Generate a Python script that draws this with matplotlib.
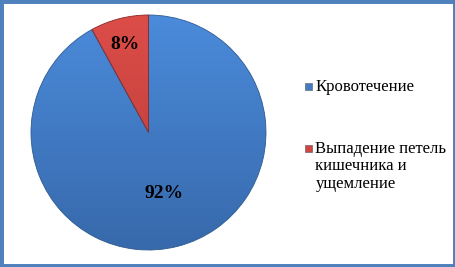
import numpy as np
import matplotlib
matplotlib.use("Agg")
import matplotlib.pyplot as plt
from matplotlib.colors import LinearSegmentedColormap
from matplotlib.patches import Rectangle

categories = ["Кровотечение", "Выпадение петель\nкишечника и\nущемление"]
values = [92, 8]
pct_labels = ["92%", "8%"]

top_colors = ["#4b8bdb", "#dc4d48"]
bottom_colors = ["#3769ab", "#b83a36"]
flat_colors = ["#427cc6", "#cf4541"]

plt.rcParams["font.family"] = ["Liberation Serif", "DejaVu Serif"]

W, H = 456, 267
fig = plt.figure(figsize=(W / 100, H / 100), dpi=100)
fig.patch.set_facecolor("white")

ax = fig.add_axes([31 / W, 17 / H, 235 / W, 235 / H])
wedges, _ = ax.pie(values, colors=flat_colors, startangle=90, counterclock=False,
                   radius=1.0, wedgeprops=dict(linewidth=0.6, edgecolor="#2f5a90"))
wedges[1].set_edgecolor("#8a2a27")
ax.set_xlim(-1, 1)
ax.set_ylim(-1, 1)
ax.set_aspect("equal")
ax.axis("off")

# vertical shading inside each wedge
grad = np.linspace(1, 0, 256).reshape(-1, 1)
for w, top, bot in zip(wedges, top_colors, bottom_colors):
    cmap = LinearSegmentedColormap.from_list("g", [bot, top])
    im = ax.imshow(grad, extent=(-1, 1, -1, 1), cmap=cmap, aspect="auto",
                   origin="upper", zorder=w.get_zorder() + 0.1)
    im.set_clip_path(w)
    w.set_facecolor("none")
    w.set_zorder(w.get_zorder() + 0.2)

# percentage labels placed along each wedge's bisector
dists = [0.52, 0.79]
start = 90.0
for val, lab, d in zip(values, pct_labels, dists):
    span = 360.0 * val / sum(values)
    mid = np.deg2rad(start - span / 2)
    ax.text(d * np.cos(mid), d * np.sin(mid) - 0.015, lab, ha="center", va="center",
            fontsize=14, fontweight="bold", color="black", zorder=10)
    start -= span

# legend: square swatch beside the first line of each label
entry_baselines = [91, 153]  # pixels from top
line_step = 17.5
for y, lab, c in zip(entry_baselines, categories, flat_colors):
    fig.patches.append(Rectangle((305 / W, 1 - (y - 1.5) / H), 7 / W, 7 / H,
                                 transform=fig.transFigure, facecolor=c,
                                 edgecolor="#555555", linewidth=0.4))
    for i, line in enumerate(lab.split("\n")):
        fig.text(315.5 / W, 1 - (y + i * line_step) / H, line, ha="left",
                 va="baseline", fontsize=12, color="black")

fig.patches.append(Rectangle((0, 0), 1, 1, transform=fig.transFigure, fill=False,
                             edgecolor="#4f81bd", linewidth=5, zorder=20))

fig.savefig("out.png", dpi=100)
